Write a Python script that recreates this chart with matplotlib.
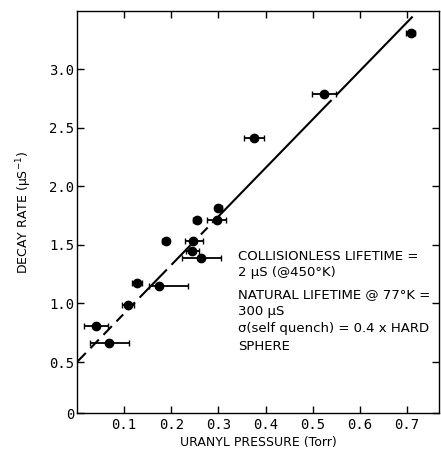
import numpy as np
import matplotlib
matplotlib.use("Agg")
import matplotlib.pyplot as plt

# uranyl pressure (Torr), decay rate (us^-1), horizontal error half-widths
pressure = [0.040, 0.068, 0.108, 0.127, 0.173, 0.188, 0.245, 0.247, 0.264,
            0.254, 0.296, 0.300, 0.376, 0.524, 0.708]
decay = [0.81, 0.66, 0.99, 1.17, 1.15, 1.53, 1.45, 1.53, 1.39,
         1.71, 1.71, 1.81, 2.41, 2.79, 3.31]
xerr_lo = [0.025, 0.040, 0.013, 0.010, 0.021, 0.008, 0.014, 0.017, 0.042,
           0.008, 0.021, 0.008, 0.021, 0.025, 0.010]
xerr_hi = [0.025, 0.042, 0.013, 0.010, 0.062, 0.008, 0.014, 0.021, 0.041,
           0.008, 0.021, 0.008, 0.020, 0.026, 0.010]

# fitted line and the hand-drawn breaks along it
fit_intercept = 0.50
fit_slope = 4.14
fit_xmax = 0.712
fit_gaps = [0.024, 0.051, 0.079, 0.103, 0.128, 0.196, 0.258, 0.282, 0.545]

notes = ["COLLISIONLESS LIFETIME =", "2 μS (@450°K)",
         "NATURAL LIFETIME @ 77°K =", "300 μS",
         "σ(self quench) = 0.4 x HARD", "SPHERE"]
notes_y = [1.40, 1.26, 1.08, 0.935, 0.79, 0.63]

x_ticks = [0.1, 0.2, 0.3, 0.4, 0.5, 0.6, 0.7]
# the original axis is broken: the bottom edge is labelled 0
y_bottom = 0.065
y_ticks = [y_bottom, 0.5, 1.0, 1.5, 2.0, 2.5, 3.0]
y_labels = ["0", "0.5", "1.0", "1.5", "2.0", "2.5", "3.0"]

plt.rcParams["font.family"] = "DejaVu Sans"

fig = plt.figure(figsize=(4.41, 4.53), dpi=100)
ax = fig.add_axes([0.1746, 0.0883, 0.8209, 0.8874])

xs = np.linspace(0, fit_xmax, 800)
ys = fit_intercept + fit_slope * xs
for g in fit_gaps:
    ys[np.abs(xs - g) < 0.0045] = np.nan
ax.plot(xs, ys, color="black", lw=1.5, solid_capstyle="butt")

ax.errorbar(pressure, decay, xerr=[xerr_lo, xerr_hi], fmt="o", color="black",
            ms=6, elinewidth=1.3, capsize=2.5, capthick=1.0)

ax.set_xlim(0, 0.768)
ax.set_ylim(y_bottom, 3.495)
ax.set_xticks(x_ticks)
ax.set_xticklabels([f"{t:.1f}" for t in x_ticks])
ax.set_yticks(y_ticks)
ax.set_yticklabels(y_labels)
ax.tick_params(direction="in", length=5, width=1, top=True, right=True,
               labelsize=10)
ax.tick_params(axis="x", pad=3.5)
ax.tick_params(axis="y", pad=2)
for lab in ax.get_xticklabels() + ax.get_yticklabels():
    lab.set_family("DejaVu Sans Mono")
for s in ax.spines.values():
    s.set_linewidth(1.0)

ax.set_xlabel("URANYL PRESSURE (Torr)", fontsize=9, labelpad=3)
ax.set_ylabel("DECAY RATE (μS$^{-1}$)", fontsize=9, labelpad=11)

for t, yt in zip(notes, notes_y):
    ax.text(0.342, yt, t, fontsize=9.5, va="center", ha="left")

fig.savefig("out.png", dpi=100)
